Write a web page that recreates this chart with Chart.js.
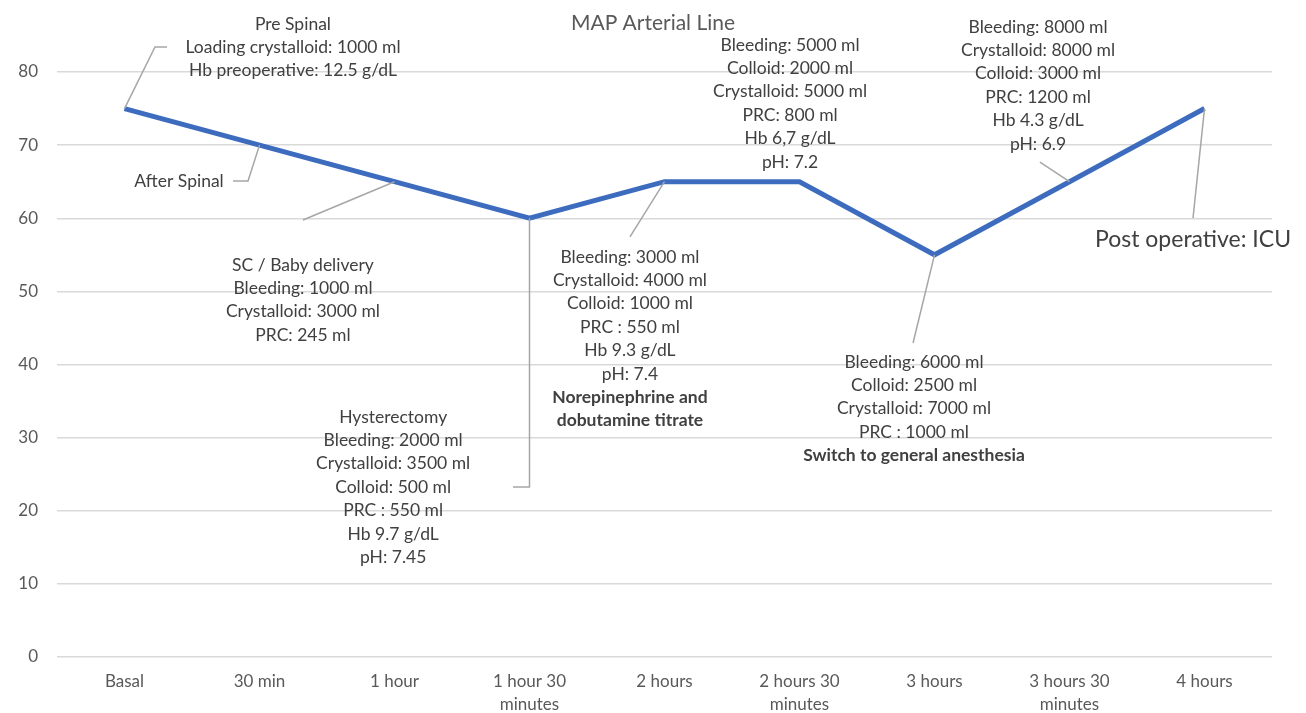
<!DOCTYPE html>
<html>
<head>
<meta charset="utf-8">
<script src="https://cdn.jsdelivr.net/npm/chart.js@4.4.1/dist/chart.umd.min.js"></script>
<style>
  html, body { margin: 0; padding: 0; background: #ffffff; }
  #wrap { width: 1306px; height: 713px; position: relative; }
</style>
</head>
<body>
<div id="wrap"><canvas id="mapChart" width="1306" height="713"></canvas></div>
<script>
// Time points along the procedure
const categories = [
  'Basal', '30 min', '1 hour', ['1 hour 30', 'minutes'], '2 hours',
  ['2 hours 30', 'minutes'], '3 hours', ['3 hours 30', 'minutes'], '4 hours'
];

// Mean arterial pressure (mmHg) from the arterial line
const mapValues = [75, 70, 65, 60, 65, 65, 55, 65, 75];

// Y axis range and step
const yMin = 0;
const yMax = 80;
const yStep = 10;

const chartTitle = 'MAP Arterial Line';

// Clinical notes attached to the curve
const notePreSpinal = ['Pre Spinal', 'Loading crystalloid: 1000 ml', 'Hb preoperative: 12.5 g/dL'];
const noteAfterSpinal = ['After Spinal'];
const noteDelivery = ['SC / Baby delivery', 'Bleeding: 1000 ml', 'Crystalloid: 3000 ml', 'PRC: 245 ml'];
const noteHysterectomy = ['Hysterectomy', 'Bleeding: 2000 ml', 'Crystalloid: 3500 ml', 'Colloid: 500 ml',
  'PRC : 550 ml', 'Hb 9.7 g/dL', 'pH: 7.45'];
const noteTwoHours = ['Bleeding: 3000 ml', 'Crystalloid: 4000 ml', 'Colloid: 1000 ml', 'PRC : 550 ml',
  'Hb 9.3 g/dL', 'pH: 7.4', 'Norepinephrine and', 'dobutamine titrate'];
const noteTwoHoursHalf = ['Bleeding: 5000 ml', 'Colloid: 2000 ml', 'Crystalloid: 5000 ml', 'PRC: 800 ml',
  'Hb 6,7 g/dL', 'pH: 7.2'];
const noteThreeHours = ['Bleeding: 6000 ml', 'Colloid: 2500 ml', 'Crystalloid: 7000 ml', 'PRC : 1000 ml',
  'Switch to general anesthesia'];
const noteThreeHoursHalf = ['Bleeding: 8000 ml', 'Crystalloid: 8000 ml', 'Colloid: 3000 ml', 'PRC: 1200 ml',
  'Hb 4.3 g/dL', 'pH: 6.9'];
const notePostOp = ['Post operative: ICU'];

// Placement of each note in axis units (category index, MAP value);
// leaders start at the data point `from` and follow `path`.
const noteLayout = [
  { lines: notePreSpinal, at: [1.248, 86.56], leader: { from: 0, path: [[0.226, 83.42], [0.315, 83.42]] } },
  { lines: noteAfterSpinal, at: [0.404, 65.0], leader: { from: 1, path: [[0.915, 65.1], [0.804, 65.1]] } },
  { lines: noteDelivery, at: [1.322, 53.6], leader: { from: 2, path: [[1.322, 59.76]] } },
  { lines: noteHysterectomy, at: [1.99, 32.82], leader: { from: 3, path: [[3, 23.25], [2.878, 23.25]] } },
  { lines: noteTwoHours, at: [3.744, 54.7], bold: 6, leader: { from: 4, path: [[3.744, 57.44]] } },
  { lines: noteTwoHoursHalf, at: [4.93, 83.7] },
  { lines: noteThreeHours, at: [5.848, 40.34], bold: 4, leader: { from: 6, path: [[5.841, 42.94]] } },
  { lines: noteThreeHoursHalf, at: [6.767, 86.15], leader: { from: 7, path: [[6.781, 67.69]] } },
  { lines: notePostOp, at: [7.915, 57.03], size: 23, leader: { from: 8, path: [[7.915, 60.03]] } }
];

const FONT = 'Lato, "Open Sans", sans-serif';

const notesPlugin = {
  id: 'procedureNotes',
  afterDraw(chart) {
    const ctx = chart.ctx;
    const xs = chart.scales.x;
    const ys = chart.scales.y;
    ctx.save();

    // Title
    ctx.fillStyle = '#595959';
    ctx.font = '21px ' + FONT;
    ctx.textAlign = 'center';
    ctx.textBaseline = 'middle';
    ctx.fillText(chartTitle, chart.width / 2, 23);

    // Leader lines
    ctx.strokeStyle = '#a6a6a6';
    ctx.lineWidth = 1.5;
    noteLayout.forEach(n => {
      if (!n.leader) return;
      const i = n.leader.from;
      ctx.beginPath();
      ctx.moveTo(xs.getPixelForValue(i), ys.getPixelForValue(mapValues[i]));
      n.leader.path.forEach(p => ctx.lineTo(xs.getPixelForValue(p[0]), ys.getPixelForValue(p[1])));
      ctx.stroke();
    });

    // Note text
    ctx.fillStyle = '#404040';
    noteLayout.forEach(n => {
      const size = n.size || 17.5;
      const lh = n.size ? 26 : 23.4;
      const cx = xs.getPixelForValue(n.at[0]);
      const y0 = ys.getPixelForValue(n.at[1]);
      n.lines.forEach((t, k) => {
        const bold = n.bold !== undefined && k >= n.bold;
        ctx.font = (bold ? 'bold ' : '') + size + 'px ' + FONT;
        ctx.fillText(t, cx, y0 + k * lh);
      });
    });
    ctx.restore();
  }
};

new Chart(document.getElementById('mapChart'), {
  type: 'line',
  data: {
    labels: categories,
    datasets: [{
      label: chartTitle,
      data: mapValues,
      borderColor: '#3d6cbf',
      borderWidth: 5,
      pointRadius: 0,
      pointHoverRadius: 0,
      tension: 0,
      fill: false
    }]
  },
  options: {
    responsive: false,
    animation: false,
    layout: { padding: { left: 0, right: 34, top: 72, bottom: 0 } },
    plugins: {
      legend: { display: false },
      title: { display: false },
      tooltip: { enabled: false }
    },
    scales: {
      x: {
        offset: true,
        grid: { display: false, drawTicks: false },
        border: { display: false },
        ticks: {
          color: '#595959',
          font: { family: FONT, size: 17, lineHeight: '23px' },
          padding: 13,
          maxRotation: 0,
          autoSkip: false
        },
        afterFit(s) { s.height = 56; }
      },
      y: {
        min: yMin,
        max: yMax,
        grid: { color: '#d9d9d9', lineWidth: 1.5, drawTicks: false },
        border: { display: false },
        ticks: {
          stepSize: yStep,
          color: '#595959',
          font: { family: FONT, size: 17 },
          padding: 19
        },
        afterFit(s) { s.width = 57; }
      }
    }
  },
  plugins: [notesPlugin]
});
</script>
</body>
</html>
